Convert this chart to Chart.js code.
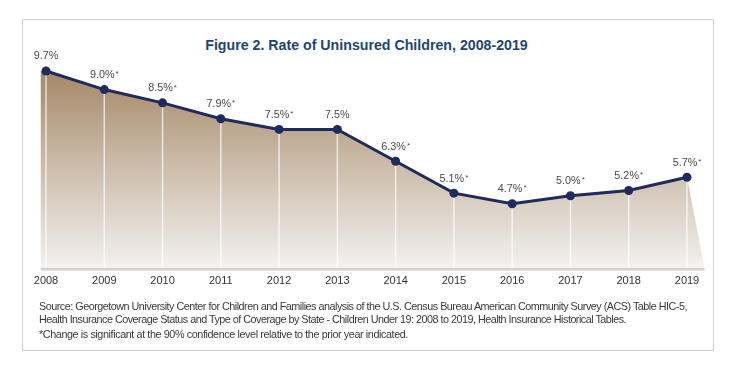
<!DOCTYPE html>
<html>
<head>
<meta charset="utf-8">
<script src="https://cdn.jsdelivr.net/npm/chart.js@4.4.1/dist/chart.umd.min.js"></script>
<style>
  html, body { margin: 0; padding: 0; background: #fff; }
  body { width: 729px; height: 370px; position: relative; overflow: hidden; font-family: "Liberation Sans", Arial, Helvetica, sans-serif; }
  #box { position: absolute; left: 22px; top: 19px; width: 690px; height: 330px; border: 1.5px solid #cfcfcf; }
  #title { position: absolute; left: 0; width: 733px; top: 37px; text-align: center; font-weight: bold; font-size: 14.2px; color: #1c4675; }
  #wrap { position: absolute; left: 0; top: 0; width: 729px; height: 370px; }
  .src { position: absolute; left: 39px; font-size: 10.8px; color: #3a3a3a; white-space: nowrap; }
</style>
</head>
<body>
<div id="box"></div>
<div id="title">Figure 2. Rate of Uninsured Children, 2008-2019</div>
<div id="wrap"><canvas id="c" width="729" height="370"></canvas></div>
<div class="src" id="s1" data-w="648" style="top:300px">Source: Georgetown University Center for Children and Families analysis of the U.S. Census Bureau American Community Survey (ACS) Table HIC-5,</div>
<div class="src" id="s2" data-w="587" style="top:313px">Health Insurance Coverage Status and Type of Coverage by State - Children Under 19: 2008 to 2019, Health Insurance Historical Tables.</div>
<div class="src" id="s3" data-w="369" style="top:327.5px">*Change is significant at the 90% confidence level relative to the prior year indicated.</div>
<script>
const years = ["2008","2009","2010","2011","2012","2013","2014","2015","2016","2017","2018","2019"];
const rates = [9.7, 9.0, 8.5, 7.9, 7.5, 7.5, 6.3, 5.1, 4.7, 5.0, 5.2, 5.7];
const significant = [false, true, true, true, true, false, true, true, true, true, true, true];

// fit source lines to reference widths via letter spacing
document.querySelectorAll('.src').forEach(el => {
  const target = parseFloat(el.dataset.w);
  const w = el.getBoundingClientRect().width;
  const n = el.textContent.length;
  el.style.letterSpacing = ((target - w) / n).toFixed(3) + 'px';
});

const areaPlugin = {
  id: 'area',
  beforeDatasetsDraw(chart) {
    const ctx = chart.ctx;
    const xs = chart.scales.x, ys = chart.scales.y;
    const bottom = chart.chartArea.bottom;
    const top = ys.getPixelForValue(Math.max(...rates));
    const g = ctx.createLinearGradient(0, top, 0, bottom);
    g.addColorStop(0, '#a68867');
    g.addColorStop(0.45, '#c9b9a6');
    g.addColorStop(0.8, '#e4ddd5');
    g.addColorStop(0.95, '#efebe7');
    g.addColorStop(1, '#f6f4f2');
    ctx.save();
    ctx.beginPath();
    const x0 = xs.getPixelForValue(-0.09);
    ctx.moveTo(x0, ys.getPixelForValue(rates[0]));
    rates.forEach((v, i) => ctx.lineTo(xs.getPixelForValue(i), ys.getPixelForValue(v)));
    ctx.lineTo(xs.getPixelForValue(rates.length - 1 + 0.3), bottom);
    ctx.lineTo(x0, bottom);
    ctx.closePath();
    ctx.fillStyle = g;
    ctx.fill();
    // vertical drop lines
    ctx.strokeStyle = 'rgba(255,255,255,0.7)';
    ctx.lineWidth = 1.5;
    rates.forEach((v, i) => {
      const x = xs.getPixelForValue(i);
      ctx.beginPath();
      ctx.moveTo(x, ys.getPixelForValue(v));
      ctx.lineTo(x, bottom);
      ctx.stroke();
    });
    // baseline
    ctx.strokeStyle = '#d2d2d2';
    ctx.lineWidth = 2.5;
    ctx.beginPath();
    ctx.moveTo(x0, bottom + 1);
    ctx.lineTo(xs.getPixelForValue(rates.length - 1 + 0.3), bottom + 1);
    ctx.stroke();
    ctx.restore();
  },
  afterDatasetsDraw(chart) {
    const ctx = chart.ctx;
    const xs = chart.scales.x, ys = chart.scales.y;
    ctx.save();
    ctx.fillStyle = '#4a4a4a';
    ctx.textBaseline = 'middle';
    rates.forEach((v, i) => {
      const x = xs.getPixelForValue(i);
      const y = ys.getPixelForValue(v) - 14.5;
      const main = v.toFixed(1) + '%';
      ctx.font = '10.8px "Liberation Sans", Arial, sans-serif';
      const w1 = ctx.measureText(main).width;
      let w2 = 0;
      if (significant[i]) {
        ctx.font = '8px "Liberation Sans", Arial, sans-serif';
        w2 = ctx.measureText('*').width + 1;
      }
      const start = x - (w1 + w2) / 2;
      ctx.textAlign = 'left';
      ctx.font = '10.8px "Liberation Sans", Arial, sans-serif';
      ctx.fillText(main, start, y);
      if (significant[i]) {
        ctx.font = '8px "Liberation Sans", Arial, sans-serif';
        ctx.fillText('*', start + w1 + 1, y - 1);
      }
    });
    ctx.restore();
  }
};

new Chart(document.getElementById('c'), {
  type: 'line',
  data: {
    labels: years,
    datasets: [{
      data: rates,
      borderColor: '#1f2b5e',
      backgroundColor: '#1f2b5e',
      borderWidth: 3,
      pointRadius: 4.5,
      pointHoverRadius: 4.5,
      pointBackgroundColor: '#1f2b5e',
      pointBorderWidth: 0,
      fill: false,
      tension: 0,
      clip: false
    }]
  },
  plugins: [areaPlugin],
  options: {
    responsive: false,
    animation: false,
    events: [],
    layout: { padding: { left: 46, right: 42, top: 63, bottom: 76.5 } },
    plugins: { legend: { display: false }, tooltip: { enabled: false }, title: { display: false } },
    scales: {
      x: {
        offset: false,
        grid: { display: false, drawTicks: false },
        border: { display: false },
        ticks: { color: '#333', font: { size: 11, family: '"Liberation Sans", Arial, sans-serif' }, padding: 6, maxRotation: 0, autoSkip: false }
      },
      y: { display: false, min: 2.27, max: 10.0 }
    }
  }
});
</script>
</body>
</html>
